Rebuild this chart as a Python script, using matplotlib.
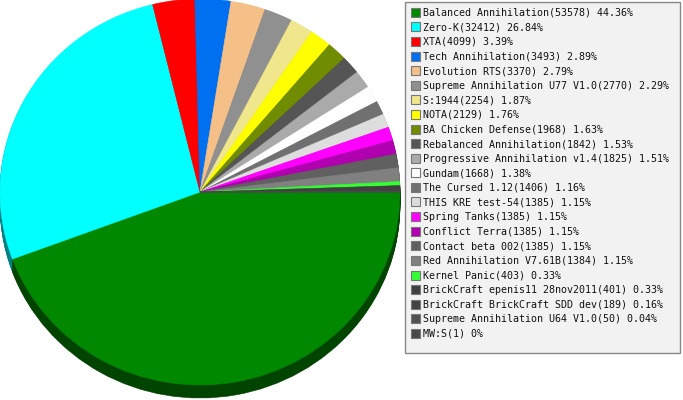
import numpy as np
import matplotlib
matplotlib.use("Agg")
import matplotlib.pyplot as plt
from matplotlib.patches import Rectangle
from matplotlib.colors import to_rgb

# games and number of games played
names = ["Balanced Annihilation", "Zero-K", "XTA", "Tech Annihilation",
         "Evolution RTS", "Supreme Annihilation U77 V1.0", "S:1944", "NOTA",
         "BA Chicken Defense", "Rebalanced Annihilation",
         "Progressive Annihilation v1.4", "Gundam", "The Cursed 1.12",
         "THIS KRE test-54", "Spring Tanks", "Conflict Terra",
         "Contact beta 002", "Red Annihilation V7.61B", "Kernel Panic",
         "BrickCraft epenis11 28nov2011", "BrickCraft BrickCraft SDD dev",
         "Supreme Annihilation U64 V1.0", "MW:S"]
counts = [53578, 32412, 4099, 3493, 3370, 2770, 2254, 2129, 1968, 1842,
          1825, 1668, 1406, 1385, 1385, 1385, 1385, 1384, 403, 401, 189,
          50, 1]
colors = ["#008800", "#00ffff", "#ff0000", "#0070f0", "#f4c088", "#909090",
          "#f0e68c", "#ffff00", "#708c00", "#555555", "#aaaaaa", "#ffffff",
          "#707070", "#dddddd", "#ff00ff", "#b000b0", "#606060", "#808080",
          "#33ff33", "#404040", "#444444", "#505050", "#484848"]

total = sum(counts)
pcts = [100.0 * c / total for c in counts]

W, H = 683, 400
fig = plt.figure(figsize=(W / 100, H / 100), dpi=100)

# pie axes, pixel box x 0..400, y -1..398 (screen), ellipse with 3d rim
depth = 13 / 193.0
ax = fig.add_axes([0, (400 - 398) / H, 400 / W, 399 / H])
dark = [tuple(0.5 * v for v in to_rgb(c)) for c in colors]
nlay = 14
for i in range(nlay, 0, -1):
    off = -depth * i / nlay
    ax.pie(counts, colors=dark, startangle=0, counterclock=False,
           center=(0, off), radius=1,
           wedgeprops=dict(linewidth=0.4, edgecolor=None))
    for w in ax.patches[-len(counts):]:
        w.set_edgecolor(w.get_facecolor())
ax.pie(counts, colors=colors, startangle=0, counterclock=False,
       center=(0, 0), radius=1, wedgeprops=dict(linewidth=0.4))
for w, c in zip(ax.patches[-len(counts):], colors):
    w.set_edgecolor(c)
ax.set_aspect("auto")
ax.set_xlim(-1, 1)
ax.set_ylim(-1 - depth, 1)
ax.axis("off")

# legend, drawn in pixel coordinates
lg = fig.add_axes([0, 0, 1, 1])
lg.set_xlim(0, W)
lg.set_ylim(H, 0)
lg.axis("off")
lg.add_patch(Rectangle((404.5, 1.5), 275, 351, facecolor="#f2f2f2",
                       edgecolor="#888888", linewidth=1))
y0, dy = 12.2, 14.6
for i, (n, c, p, col) in enumerate(zip(names, counts, pcts, colors)):
    y = y0 + i * dy
    lg.add_patch(Rectangle((410.5, y - 4.5), 9, 9, facecolor=col,
                           edgecolor="#777777", linewidth=0.8))
    lg.text(423, y + 0.5, f"{n}({c}) {round(p, 2):g}%", fontsize=7.2,
            family="DejaVu Sans Mono", color="#111111", va="center",
            ha="left")

fig.savefig("out.png", dpi=100)
